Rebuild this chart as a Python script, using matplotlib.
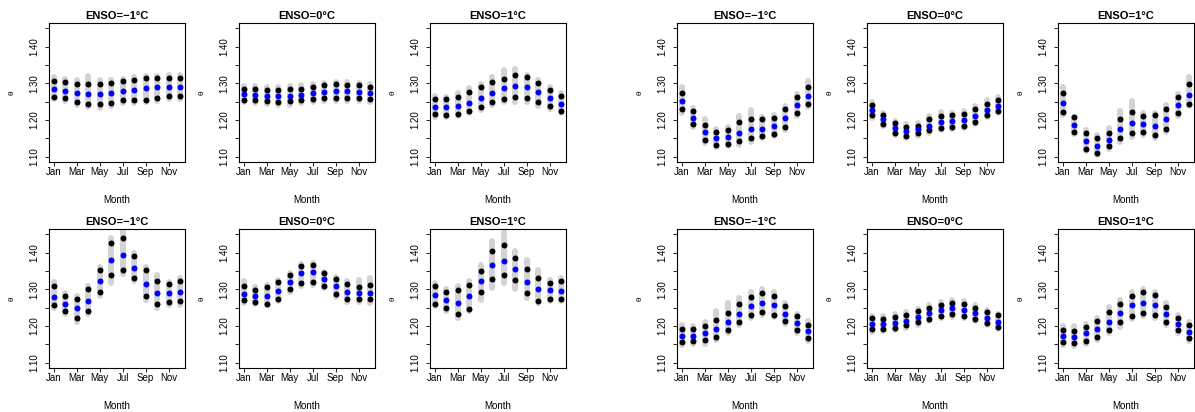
import matplotlib

matplotlib.use("Agg")
import matplotlib.pyplot as plt

plt.rcParams.update({
    "font.family": ["Liberation Sans", "DejaVu Sans"],
    "font.size": 7,
})

months = list(range(1, 13))
month_ticks = [1, 3, 5, 7, 9, 11]
month_labels = ["Jan", "Mar", "May", "Jul", "Sep", "Nov"]
enso_titles = ["ENSO=\u22121\u00b0C", "ENSO=0\u00b0C", "ENSO=1\u00b0C"]

# ---- left block, top row ----
p1_upper = [1.307, 1.303, 1.299, 1.298, 1.299, 1.302, 1.305, 1.309, 1.314, 1.314, 1.315, 1.315]
p1_median = [1.285, 1.280, 1.275, 1.272, 1.271, 1.274, 1.278, 1.282, 1.286, 1.289, 1.290, 1.289]
p1_lower = [1.264, 1.259, 1.250, 1.245, 1.243, 1.247, 1.255, 1.255, 1.255, 1.259, 1.265, 1.265]
p1_gray_hi = [1.316, 1.311, 1.310, 1.320, 1.310, 1.310, 1.312, 1.316, 1.320, 1.320, 1.322, 1.322]
p1_gray_lo = [1.256, 1.251, 1.242, 1.236, 1.233, 1.238, 1.247, 1.247, 1.248, 1.251, 1.257, 1.257]

p2_upper = [1.285, 1.284, 1.283, 1.282, 1.285, 1.285, 1.290, 1.295, 1.297, 1.296, 1.295, 1.290]
p2_median = [1.270, 1.267, 1.265, 1.265, 1.265, 1.268, 1.274, 1.277, 1.279, 1.278, 1.277, 1.275]
p2_lower = [1.255, 1.254, 1.251, 1.249, 1.251, 1.254, 1.256, 1.260, 1.260, 1.260, 1.259, 1.256]
p2_gray_hi = [1.292, 1.292, 1.291, 1.290, 1.292, 1.296, 1.297, 1.301, 1.303, 1.304, 1.302, 1.297]
p2_gray_lo = [1.248, 1.246, 1.245, 1.242, 1.242, 1.246, 1.250, 1.253, 1.253, 1.253, 1.252, 1.249]

p3_upper = [1.258, 1.256, 1.263, 1.276, 1.290, 1.304, 1.313, 1.322, 1.317, 1.300, 1.282, 1.265]
p3_median = [1.236, 1.235, 1.238, 1.247, 1.260, 1.275, 1.287, 1.294, 1.290, 1.276, 1.260, 1.245]
p3_lower = [1.216, 1.215, 1.217, 1.224, 1.235, 1.249, 1.258, 1.262, 1.260, 1.249, 1.238, 1.225]
p3_gray_hi = [1.265, 1.264, 1.274, 1.287, 1.298, 1.318, 1.336, 1.338, 1.322, 1.308, 1.289, 1.274]
p3_gray_lo = [1.208, 1.208, 1.210, 1.218, 1.228, 1.240, 1.250, 1.250, 1.248, 1.238, 1.230, 1.218]

# ---- right block, top row ----
p4_upper = [1.275, 1.224, 1.186, 1.168, 1.174, 1.195, 1.203, 1.202, 1.205, 1.230, 1.262, 1.289]
p4_median = [1.252, 1.206, 1.167, 1.150, 1.153, 1.165, 1.175, 1.177, 1.185, 1.205, 1.241, 1.265]
p4_lower = [1.229, 1.189, 1.146, 1.131, 1.136, 1.142, 1.151, 1.158, 1.162, 1.182, 1.219, 1.243]
p4_gray_hi = [1.290, 1.232, 1.204, 1.176, 1.180, 1.210, 1.228, 1.208, 1.213, 1.238, 1.270, 1.306]
p4_gray_lo = [1.220, 1.182, 1.138, 1.126, 1.130, 1.133, 1.140, 1.152, 1.156, 1.174, 1.212, 1.236]

p5_upper = [1.242, 1.215, 1.193, 1.182, 1.185, 1.202, 1.211, 1.213, 1.217, 1.230, 1.245, 1.255]
p5_median = [1.228, 1.202, 1.179, 1.171, 1.175, 1.185, 1.195, 1.198, 1.201, 1.212, 1.228, 1.238]
p5_lower = [1.214, 1.190, 1.165, 1.158, 1.165, 1.172, 1.179, 1.182, 1.185, 1.195, 1.215, 1.225]
p5_gray_hi = [1.250, 1.220, 1.198, 1.188, 1.192, 1.210, 1.222, 1.220, 1.226, 1.238, 1.255, 1.264]
p5_gray_lo = [1.207, 1.185, 1.160, 1.152, 1.158, 1.165, 1.172, 1.176, 1.178, 1.188, 1.208, 1.218]

p6_upper = [1.274, 1.208, 1.165, 1.151, 1.165, 1.203, 1.223, 1.212, 1.213, 1.231, 1.263, 1.297]
p6_median = [1.246, 1.187, 1.142, 1.129, 1.145, 1.175, 1.191, 1.188, 1.185, 1.202, 1.241, 1.269]
p6_lower = [1.221, 1.168, 1.122, 1.110, 1.129, 1.151, 1.166, 1.167, 1.159, 1.177, 1.219, 1.245]
p6_gray_hi = [1.290, 1.208, 1.172, 1.160, 1.178, 1.226, 1.252, 1.220, 1.220, 1.240, 1.272, 1.316]
p6_gray_lo = [1.214, 1.162, 1.116, 1.106, 1.122, 1.140, 1.153, 1.160, 1.152, 1.168, 1.212, 1.238]

# ---- left block, bottom row ----
p7_upper = [1.308, 1.281, 1.275, 1.300, 1.352, 1.425, 1.440, 1.391, 1.353, 1.323, 1.315, 1.323]
p7_median = [1.280, 1.260, 1.249, 1.269, 1.322, 1.380, 1.394, 1.359, 1.315, 1.289, 1.289, 1.292]
p7_lower = [1.258, 1.240, 1.221, 1.241, 1.292, 1.339, 1.352, 1.332, 1.282, 1.260, 1.266, 1.268]
p7_gray_hi = [1.320, 1.290, 1.283, 1.308, 1.362, 1.440, 1.458, 1.400, 1.362, 1.338, 1.320, 1.330]
p7_gray_lo = [1.250, 1.232, 1.212, 1.232, 1.283, 1.318, 1.342, 1.322, 1.272, 1.250, 1.258, 1.257]

p8_upper = [1.309, 1.299, 1.305, 1.319, 1.338, 1.364, 1.367, 1.345, 1.327, 1.315, 1.307, 1.311]
p8_median = [1.287, 1.283, 1.283, 1.296, 1.319, 1.343, 1.347, 1.329, 1.308, 1.293, 1.290, 1.290]
p8_lower = [1.270, 1.266, 1.261, 1.275, 1.300, 1.316, 1.319, 1.310, 1.287, 1.273, 1.273, 1.273]
p8_gray_hi = [1.322, 1.307, 1.313, 1.324, 1.343, 1.368, 1.372, 1.348, 1.333, 1.322, 1.324, 1.330]
p8_gray_lo = [1.262, 1.260, 1.256, 1.268, 1.293, 1.308, 1.312, 1.303, 1.280, 1.266, 1.266, 1.264]

p9_upper = [1.310, 1.294, 1.298, 1.313, 1.351, 1.405, 1.420, 1.384, 1.354, 1.332, 1.318, 1.323]
p9_median = [1.285, 1.270, 1.263, 1.281, 1.322, 1.366, 1.378, 1.355, 1.320, 1.300, 1.297, 1.296]
p9_lower = [1.261, 1.248, 1.234, 1.247, 1.294, 1.329, 1.338, 1.326, 1.289, 1.268, 1.273, 1.273]
p9_gray_hi = [1.318, 1.302, 1.308, 1.322, 1.366, 1.432, 1.455, 1.404, 1.380, 1.352, 1.326, 1.330]
p9_gray_lo = [1.255, 1.241, 1.221, 1.240, 1.272, 1.303, 1.318, 1.302, 1.276, 1.262, 1.267, 1.267]

# ---- right block, bottom row ----
p10_upper = [1.191, 1.192, 1.200, 1.216, 1.236, 1.260, 1.280, 1.290, 1.282, 1.255, 1.227, 1.204]
p10_median = [1.174, 1.173, 1.180, 1.193, 1.212, 1.234, 1.255, 1.264, 1.257, 1.234, 1.208, 1.186]
p10_lower = [1.158, 1.159, 1.162, 1.170, 1.188, 1.212, 1.231, 1.239, 1.231, 1.214, 1.189, 1.168]
p10_gray_hi = [1.202, 1.200, 1.212, 1.240, 1.262, 1.277, 1.293, 1.300, 1.294, 1.264, 1.234, 1.214]
p10_gray_lo = [1.149, 1.150, 1.152, 1.163, 1.180, 1.204, 1.222, 1.230, 1.224, 1.206, 1.182, 1.160]

p11_upper = [1.221, 1.220, 1.224, 1.231, 1.240, 1.250, 1.258, 1.263, 1.259, 1.249, 1.238, 1.229]
p11_median = [1.207, 1.206, 1.209, 1.215, 1.224, 1.235, 1.243, 1.248, 1.245, 1.235, 1.223, 1.212]
p11_lower = [1.191, 1.192, 1.196, 1.202, 1.210, 1.220, 1.227, 1.232, 1.228, 1.220, 1.208, 1.198]
p11_gray_hi = [1.228, 1.228, 1.232, 1.238, 1.246, 1.256, 1.266, 1.270, 1.268, 1.256, 1.244, 1.234]
p11_gray_lo = [1.185, 1.186, 1.189, 1.196, 1.204, 1.214, 1.221, 1.226, 1.222, 1.214, 1.202, 1.192]

p12_upper = [1.190, 1.187, 1.197, 1.214, 1.237, 1.261, 1.283, 1.293, 1.285, 1.253, 1.223, 1.202]
p12_median = [1.173, 1.171, 1.180, 1.192, 1.212, 1.235, 1.256, 1.264, 1.256, 1.232, 1.206, 1.184]
p12_lower = [1.156, 1.154, 1.159, 1.170, 1.189, 1.210, 1.228, 1.236, 1.231, 1.210, 1.188, 1.168]
p12_gray_hi = [1.200, 1.200, 1.206, 1.222, 1.252, 1.272, 1.292, 1.302, 1.292, 1.262, 1.230, 1.212]
p12_gray_lo = [1.148, 1.146, 1.150, 1.162, 1.180, 1.198, 1.220, 1.228, 1.222, 1.204, 1.180, 1.160]

panels = [
    (p1_upper, p1_median, p1_lower, p1_gray_hi, p1_gray_lo),
    (p2_upper, p2_median, p2_lower, p2_gray_hi, p2_gray_lo),
    (p3_upper, p3_median, p3_lower, p3_gray_hi, p3_gray_lo),
    (p4_upper, p4_median, p4_lower, p4_gray_hi, p4_gray_lo),
    (p5_upper, p5_median, p5_lower, p5_gray_hi, p5_gray_lo),
    (p6_upper, p6_median, p6_lower, p6_gray_hi, p6_gray_lo),
    (p7_upper, p7_median, p7_lower, p7_gray_hi, p7_gray_lo),
    (p8_upper, p8_median, p8_lower, p8_gray_hi, p8_gray_lo),
    (p9_upper, p9_median, p9_lower, p9_gray_hi, p9_gray_lo),
    (p10_upper, p10_median, p10_lower, p10_gray_hi, p10_gray_lo),
    (p11_upper, p11_median, p11_lower, p11_gray_hi, p11_gray_lo),
    (p12_upper, p12_median, p12_lower, p12_gray_hi, p12_gray_lo),
]

W, H = 1195, 412
fig = plt.figure(figsize=(W / 100, H / 100), dpi=100)

col_x = [49, 239, 430, 677, 867, 1058]
row_top = [23, 229]
pw, ph = 136, 139
dot = 4.3

for idx, (upper, median, lower, g_hi, g_lo) in enumerate(panels):
    row, col = divmod(idx, 6)
    x0, y0 = col_x[col], row_top[row]
    ax = fig.add_axes([x0 / W, 1 - (y0 + ph) / H, pw / W, ph / H])

    gl = ax.vlines(months, g_lo, g_hi, color="#d3d3d3", lw=dot, zorder=1)
    gl.set_capstyle("round")
    ax.plot(months, upper, "o", color="black", ms=dot, mew=0, zorder=2)
    ax.plot(months, lower, "o", color="black", ms=dot, mew=0, zorder=2)
    ax.plot(months, median, "o", color="blue", ms=dot, mew=0, zorder=3)

    ax.set_xlim(0.56, 12.44)
    ax.set_ylim(1.086, 1.464)
    ax.set_xticks(month_ticks)
    ax.set_xticklabels(month_labels)
    ax.set_yticks([1.10, 1.15, 1.20, 1.25, 1.30, 1.35, 1.40, 1.45])
    ax.set_yticklabels(["1.10", "", "1.20", "", "1.30", "", "1.40", ""],
                       rotation=90, va="center")
    ax.tick_params(axis="x", direction="out", length=3, width=0.6, pad=0.5, labelsize=7)
    ax.tick_params(axis="y", direction="out", length=3, width=0.6, pad=4, labelsize=7)
    for sp in ax.spines.values():
        sp.set_linewidth(0.8)

    ax.set_title(enso_titles[col % 3], fontsize=8, fontweight="bold", pad=3)
    ax.text(0.5, -38 / ph, "Month", transform=ax.transAxes,
            ha="center", va="center", fontsize=7)
    ax.text(-37 / pw, 0.5, "\u03b8", transform=ax.transAxes,
            ha="center", va="center", rotation=90, fontsize=6)

fig.savefig("out.png", dpi=100)
